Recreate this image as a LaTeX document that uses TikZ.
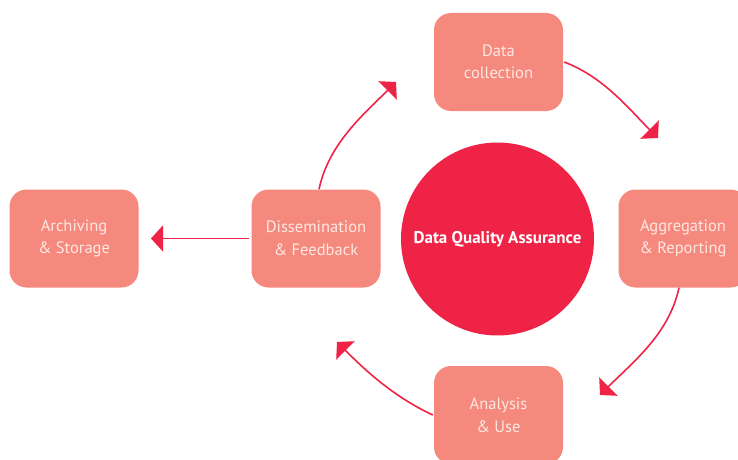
\documentclass[tikz,border=0pt]{standalone}
\usepackage{fontspec}
\setmainfont{PT Sans}
\usetikzlibrary{arrows.meta}
\definecolor{boxfill}{RGB}{245,137,125}
\definecolor{crim}{RGB}{238,35,70}
\definecolor{boxtext}{RGB}{255,232,226}
\tikzset{
  stagebox/.style={rectangle, rounded corners=17pt, fill=boxfill, minimum width=129pt, minimum height=98pt, align=center, text=boxtext, font=\fontsize{16.5}{22.5}\selectfont, inner sep=0pt},
  flowarrow/.style={draw=crim, line width=1.6pt, -{Triangle[length=12pt, width=26pt]}}
}
\begin{document}
\begin{tikzpicture}[x=1pt,y=1pt]
\useasboundingbox (0,0) rectangle (738,459);
\begin{scope}
\clip (0,0) rectangle (738,459);
\node[circle, fill=crim, minimum size=193pt, inner sep=0pt, text=white, font=\bfseries\fontsize{17}{20}\selectfont] (dqa) at (497.5,220) {Data Quality Assurance};
\node[stagebox] (dc) at (498.5,397) {Data\\collection};
\node[stagebox] (ag) at (683,220.5) {Aggregation\\\& Reporting};
\node[stagebox] (an) at (498.5,44) {Analysis\\\& Use};
\node[stagebox] (ar) at (74,220.5) {Archiving\\\& Storage};
\node[stagebox] (ds) at (316,220.5) {Dissemination\\\& Feedback};
\coordinate (t1) at (658,321);
\coordinate (t2) at (600,64);
\coordinate (t3) at (337,117);
\coordinate (t4) at (396,377);
\coordinate (t5) at (151,220.5);
\draw[flowarrow] ([xshift=1pt]dc.east) to[out=-21, in=135, looseness=0.9] (t1);
\draw[flowarrow] ([xshift=-4pt]ag.south) to[out=-102, in=45, looseness=0.9] (t2);
\draw[flowarrow] ([xshift=-1pt]an.west) to[out=155, in=-45, looseness=0.9] (t3);
\draw[flowarrow] ([xshift=3pt]ds.north) to[out=78, in=225, looseness=0.9] (t4);
\draw[flowarrow] ([xshift=-2pt]ds.west) -- (t5);
\end{scope}
\end{tikzpicture}
\end{document}
